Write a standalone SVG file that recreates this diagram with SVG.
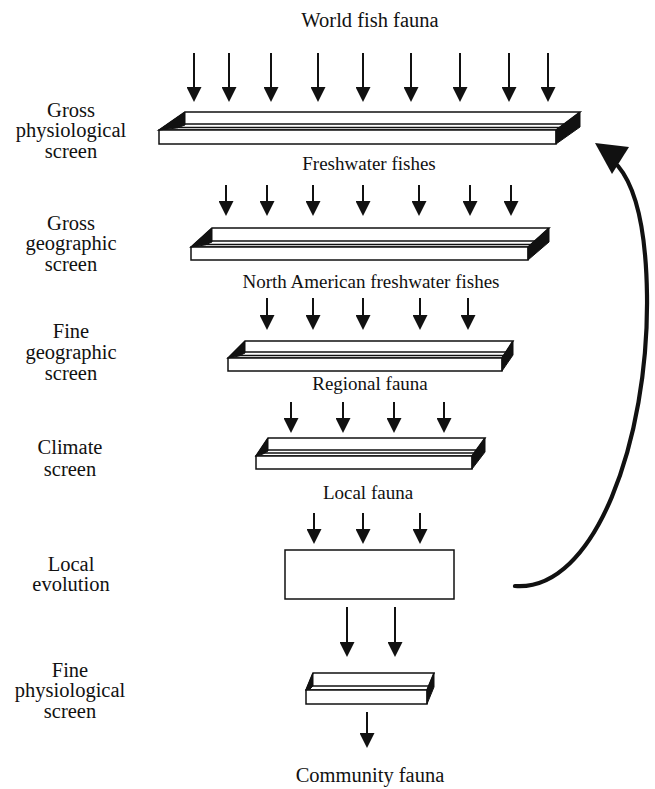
<svg xmlns="http://www.w3.org/2000/svg" width="655" height="789" viewBox="0 0 655 789">
<style>
text{font-family:"Liberation Serif","Times New Roman",serif;fill:#111;text-anchor:middle}
.lbl{font-size:20.5px}
.mid{font-size:19px}
.ttl{font-size:20.5px}
.face{fill:#fff;stroke:#111;stroke-width:1.5;stroke-linejoin:miter}
.blk{fill:#111;stroke:#111;stroke-width:1;stroke-linejoin:miter}
.in{stroke:#111;stroke-width:1.3;fill:none}
.arr{stroke:#111;stroke-width:2;fill:none;marker-end:url(#ah)}
.loop{stroke:#111;stroke-width:4.2;fill:none;stroke-linecap:round}
</style>
<defs>
<marker id="ah" markerUnits="userSpaceOnUse" markerWidth="15" markerHeight="15" viewBox="0 0 15 15" refX="5" refY="7.5" orient="auto">
<path d="M0,0 L15,7.5 L0,15 Z" fill="#111"/>
</marker>
</defs>
<rect width="655" height="789" fill="#fff"/>

<g id="labels-left">
<text class="lbl" x="71" y="117">Gross</text>
<text class="lbl" x="71" y="137">physiological</text>
<text class="lbl" x="71" y="158">screen</text>
<text class="lbl" x="71" y="230">Gross</text>
<text class="lbl" x="71" y="250">geographic</text>
<text class="lbl" x="71" y="271">screen</text>
<text class="lbl" x="71" y="338">Fine</text>
<text class="lbl" x="71" y="359">geographic</text>
<text class="lbl" x="71" y="380">screen</text>
<text class="lbl" x="70" y="454">Climate</text>
<text class="lbl" x="70" y="476">screen</text>
<text class="lbl" x="71" y="571">Local</text>
<text class="lbl" x="71" y="591">evolution</text>
<text class="lbl" x="70" y="677">Fine</text>
<text class="lbl" x="70" y="697">physiological</text>
<text class="lbl" x="70" y="718">screen</text>
</g>

<g id="fauna-labels">
<text class="ttl" x="370" y="27">World fish fauna</text>
<text class="mid" x="369" y="170">Freshwater fishes</text>
<text class="mid" x="371" y="288">North American freshwater fishes</text>
<text class="mid" x="370" y="390">Regional fauna</text>
<text class="mid" x="368" y="499">Local fauna</text>
<text class="ttl" x="370" y="782">Community fauna</text>
</g>

<g id="gross-physiological-screen">
<polygon class="face" points="159,130 185,112 580,112 556,130"/>
<rect class="face" x="159" y="130" width="397" height="14"/>
<line class="in" x1="185" y1="124" x2="564" y2="124"/>
<line class="in" x1="177" y1="127.5" x2="560" y2="127.5"/>
<polygon class="blk" points="159,130 185,112 185,125 177,128"/>
<polygon class="blk" points="556,130 580,112 580,127 556,144"/>
</g>

<g id="gross-geographic-screen">
<polygon class="face" points="191,247 212,228 549,228 528,247"/>
<rect class="face" x="191" y="247" width="337" height="13"/>
<line class="in" x1="212" y1="241" x2="535" y2="241"/>
<line class="in" x1="205" y1="244.5" x2="531" y2="244.5"/>
<polygon class="blk" points="191,247 212,228 212,242 205,245"/>
<polygon class="blk" points="528,247 549,228 549,242 528,260"/>
</g>

<g id="fine-geographic-screen">
<polygon class="face" points="228,358 245,341 513,341 502,358"/>
<rect class="face" x="228" y="358" width="274" height="13"/>
<line class="in" x1="245" y1="352" x2="506" y2="352"/>
<line class="in" x1="239" y1="355.5" x2="504" y2="355.5"/>
<polygon class="blk" points="228,358 245,341 245,353 239,356"/>
<polygon class="blk" points="502,358 513,341 513,355 502,371"/>
</g>

<g id="climate-screen">
<polygon class="face" points="256,456 268,438 485,438 472,456"/>
<rect class="face" x="256" y="456" width="216" height="13"/>
<line class="in" x1="268" y1="450" x2="477" y2="450"/>
<line class="in" x1="263" y1="453" x2="474" y2="453"/>
<polygon class="blk" points="256,456 268,438 268,451 263,454"/>
<polygon class="blk" points="472,456 485,438 485,452 472,469"/>
</g>

<g id="local-evolution">
<rect class="face" x="285" y="550" width="169" height="49"/>
</g>

<g id="fine-physiological-screen">
<polygon class="face" points="306,690 313,673 434,673 427,690"/>
<rect class="face" x="306" y="690" width="121" height="14"/>
<line class="in" x1="313" y1="686" x2="429" y2="686"/>
<polygon class="blk" points="306,690 313,673 313,686 310,689"/>
<polygon class="blk" points="427,690 434,673 434,687 427,704"/>
</g>

<g id="connectors">
<line class="arr" x1="194" y1="53" x2="194" y2="92"/>
<line class="arr" x1="229" y1="53" x2="229" y2="92"/>
<line class="arr" x1="271" y1="53" x2="271" y2="92"/>
<line class="arr" x1="318" y1="53" x2="318" y2="92"/>
<line class="arr" x1="363" y1="53" x2="363" y2="92"/>
<line class="arr" x1="411" y1="53" x2="411" y2="92"/>
<line class="arr" x1="460" y1="53" x2="460" y2="92"/>
<line class="arr" x1="509" y1="53" x2="509" y2="92"/>
<line class="arr" x1="548" y1="53" x2="548" y2="92"/>

<line class="arr" x1="226" y1="185" x2="226" y2="206"/>
<line class="arr" x1="267" y1="185" x2="267" y2="206"/>
<line class="arr" x1="313" y1="185" x2="313" y2="206"/>
<line class="arr" x1="363" y1="185" x2="363" y2="206"/>
<line class="arr" x1="419" y1="185" x2="419" y2="206"/>
<line class="arr" x1="470" y1="185" x2="470" y2="206"/>
<line class="arr" x1="511" y1="185" x2="511" y2="206"/>

<line class="arr" x1="267" y1="298" x2="267" y2="320"/>
<line class="arr" x1="313" y1="298" x2="313" y2="320"/>
<line class="arr" x1="363" y1="298" x2="363" y2="320"/>
<line class="arr" x1="420" y1="298" x2="420" y2="320"/>
<line class="arr" x1="468" y1="298" x2="468" y2="320"/>

<line class="arr" x1="291" y1="402" x2="291" y2="423"/>
<line class="arr" x1="343" y1="402" x2="343" y2="423"/>
<line class="arr" x1="394" y1="402" x2="394" y2="423"/>
<line class="arr" x1="444" y1="402" x2="444" y2="423"/>

<line class="arr" x1="314" y1="513" x2="314" y2="534"/>
<line class="arr" x1="363" y1="513" x2="363" y2="534"/>
<line class="arr" x1="420" y1="513" x2="420" y2="534"/>

<line class="arr" x1="347" y1="607" x2="347" y2="647"/>
<line class="arr" x1="395" y1="607" x2="395" y2="647"/>

<line class="arr" x1="367" y1="712" x2="367" y2="738"/>

<path class="loop" d="M515,586 C595,592 649,440 647,295 C646,225 634,185 618,166"/>
<polygon points="595,143 629,147 612,174" fill="#111"/>
</g>
</svg>
